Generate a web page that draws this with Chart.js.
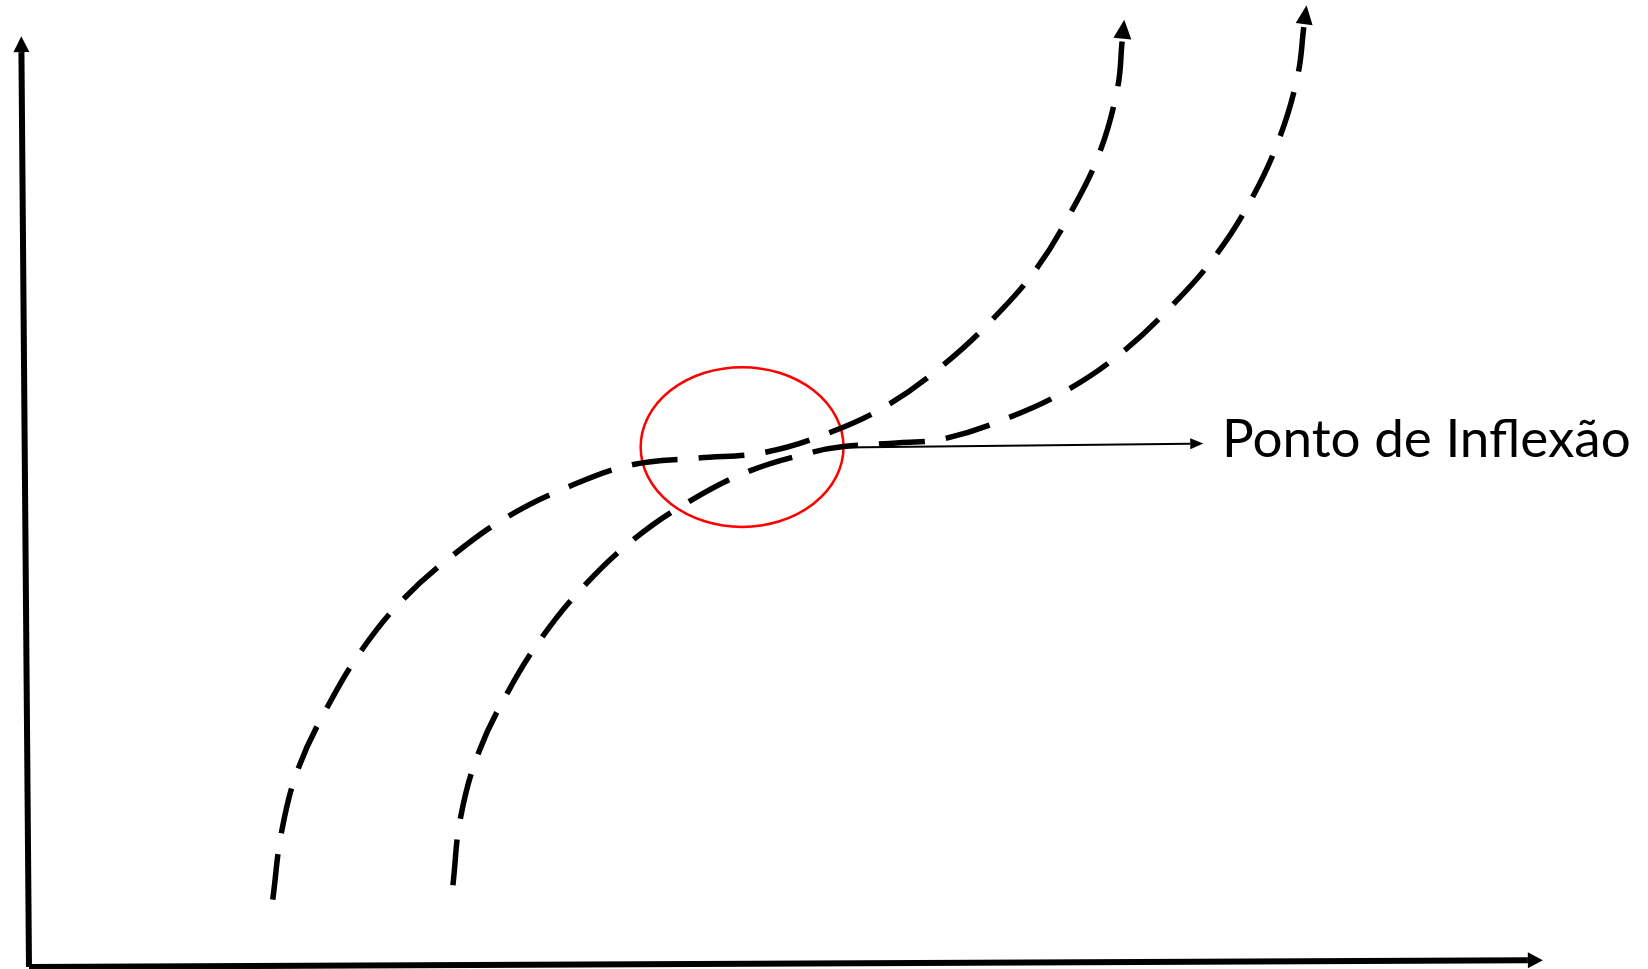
<!DOCTYPE html>
<html>
<head>
<meta charset="utf-8">
<script src="https://cdn.jsdelivr.net/npm/chart.js@4"></script>
<style>
  body { margin: 0; background: #fff; }
  #chart-container { width: 1648px; height: 969px; }
</style>
</head>
<body>
<div id="chart-container"><canvas id="curve-chart"></canvas></div>
<script>
// both curves in axis units (0-100 along each axis)
const leftCurveX = [16.1, 16.7, 17.8, 19.7, 22.0, 24.7, 28.0, 31.6, 35.6, 39.8, 44.1, 48.6, 52.8, 56.7, 60.4, 63.5, 66.5, 68.8, 70.7, 71.9, 72.2];
const leftCurveY = [7.0, 14.2, 20.7, 27.0, 33.0, 38.2, 42.8, 46.8, 49.9, 52.2, 52.9, 53.5, 55.5, 58.4, 62.6, 67.1, 72.5, 78.4, 84.6, 91.4, 96.2];

const rightCurveX = [28.0, 28.5, 29.7, 31.6, 33.9, 36.6, 39.9, 43.5, 47.5, 51.7, 53.8, 57.5, 60.4, 64.7, 68.6, 72.2, 75.4, 78.3, 80.7, 82.6, 83.8, 84.2];
const rightCurveY = [8.5, 15.5, 22.3, 28.5, 34.3, 39.5, 44.4, 48.3, 51.5, 53.5, 54.1, 54.5, 54.9, 57.1, 60.0, 63.9, 68.6, 73.8, 79.7, 86.2, 92.7, 97.7];

// the two axes, hand drawn so slightly slanted
const yAxisX = [0, -0.5];
const yAxisY = [0, 95.1];
const xAxisX = [0, 99.0];
const xAxisY = [0, 0.7];

// pointer from the inflection point to the label
const pointerX = [53.7, 76.7];
const pointerY = [54.0, 54.4];

const labelText = 'Ponto de Inflexão';
const labelPos = [78.8, 53.0];

// red ellipse round the inflection point
const ellipseCenter = [47.1, 54.05];
const ellipseRadius = [6.7, 8.3];

let chart;

const toPoints = function(xs, ys) {
  let pts = [];
  for (var i = 0; i < xs.length; i++) {
    pts.push({ x: xs[i], y: ys[i] });
  }
  return pts;
}

// filled arrow head at the end of a dataset, pointing along its last segment
const arrowPlugin = {
  id: 'arrowHeads',
  afterDatasetsDraw(chart) {
    const ctx = chart.ctx;
    chart.data.datasets.forEach((ds, i) => {
      if (!ds.arrow) return;
      const pts = chart.getDatasetMeta(i).data;
      const a = pts[pts.length - 2];
      const b = pts[pts.length - 1];
      let dx = b.x - a.x, dy = b.y - a.y;
      const len = Math.hypot(dx, dy);
      dx /= len; dy /= len;
      const bx = b.x + dx * ds.arrow.gap;
      const by = b.y + dy * ds.arrow.gap;
      const tx = bx + dx * ds.arrow.length;
      const ty = by + dy * ds.arrow.length;
      const h = ds.arrow.width / 2;
      ctx.save();
      ctx.fillStyle = ds.borderColor;
      ctx.beginPath();
      ctx.moveTo(tx, ty);
      ctx.lineTo(bx - dy * h, by + dx * h);
      ctx.lineTo(bx + dy * h, by - dx * h);
      ctx.closePath();
      ctx.fill();
      ctx.restore();
    });
  }
};

const notePlugin = {
  id: 'inflectionNote',
  beforeDatasetsDraw(chart) {
    const ctx = chart.ctx;
    const xs = chart.scales.x, ys = chart.scales.y;
    const cx = xs.getPixelForValue(ellipseCenter[0]);
    const cy = ys.getPixelForValue(ellipseCenter[1]);
    const rx = Math.abs(xs.getPixelForValue(ellipseCenter[0] + ellipseRadius[0]) - cx);
    const ry = Math.abs(ys.getPixelForValue(ellipseCenter[1] + ellipseRadius[1]) - cy);
    ctx.save();
    ctx.strokeStyle = '#ff0000';
    ctx.lineWidth = 2.5;
    ctx.beginPath();
    ctx.ellipse(cx, cy, rx, ry, 0, 0, Math.PI * 2);
    ctx.stroke();
    ctx.restore();
  },
  afterDraw(chart) {
    const ctx = chart.ctx;
    ctx.save();
    ctx.fillStyle = '#000';
    ctx.font = '53px Lato';
    ctx.textBaseline = 'alphabetic';
    ctx.fillText(labelText, chart.scales.x.getPixelForValue(labelPos[0]), chart.scales.y.getPixelForValue(labelPos[1]));
    ctx.restore();
  }
};

const lineSet = function(xs, ys, width, dash, arrow) {
  return {
    data: toPoints(xs, ys),
    showLine: true,
    borderColor: '#000000',
    borderWidth: width,
    borderDash: dash,
    borderCapStyle: 'butt',
    pointRadius: 0,
    tension: dash.length ? 0.4 : 0,
    clip: false,
    arrow: arrow
  };
}

const initChart = function() {
  const ctx = document.getElementById('curve-chart').getContext('2d');
  chart = new Chart(ctx, {
    type: 'scatter',
    data: {
      datasets: [
        lineSet(yAxisX, yAxisY, 6, [], { gap: 0, length: 16, width: 16 }),
        lineSet(xAxisX, xAxisY, 6, [], { gap: 0, length: 15, width: 16 }),
        lineSet(leftCurveX, leftCurveY, 5.5, [46, 21], { gap: 3, length: 19, width: 18 }),
        lineSet(rightCurveX, rightCurveY, 5.5, [46, 21], { gap: 3, length: 19, width: 17 }),
        lineSet(pointerX, pointerY, 2, [], { gap: 0, length: 13, width: 11 })
      ]
    },
    options: {
      responsive: true,
      maintainAspectRatio: false,
      animation: false,
      layout: { padding: { left: 29, right: 105, top: 5, bottom: 2 } },
      scales: {
        x: { type: 'linear', min: 0, max: 100, display: false },
        y: { type: 'linear', min: 0, max: 100, display: false }
      },
      plugins: {
        legend: { display: false },
        tooltip: { enabled: false }
      }
    },
    plugins: [arrowPlugin, notePlugin]
  });
}

initChart();
</script>
</body>
</html>
